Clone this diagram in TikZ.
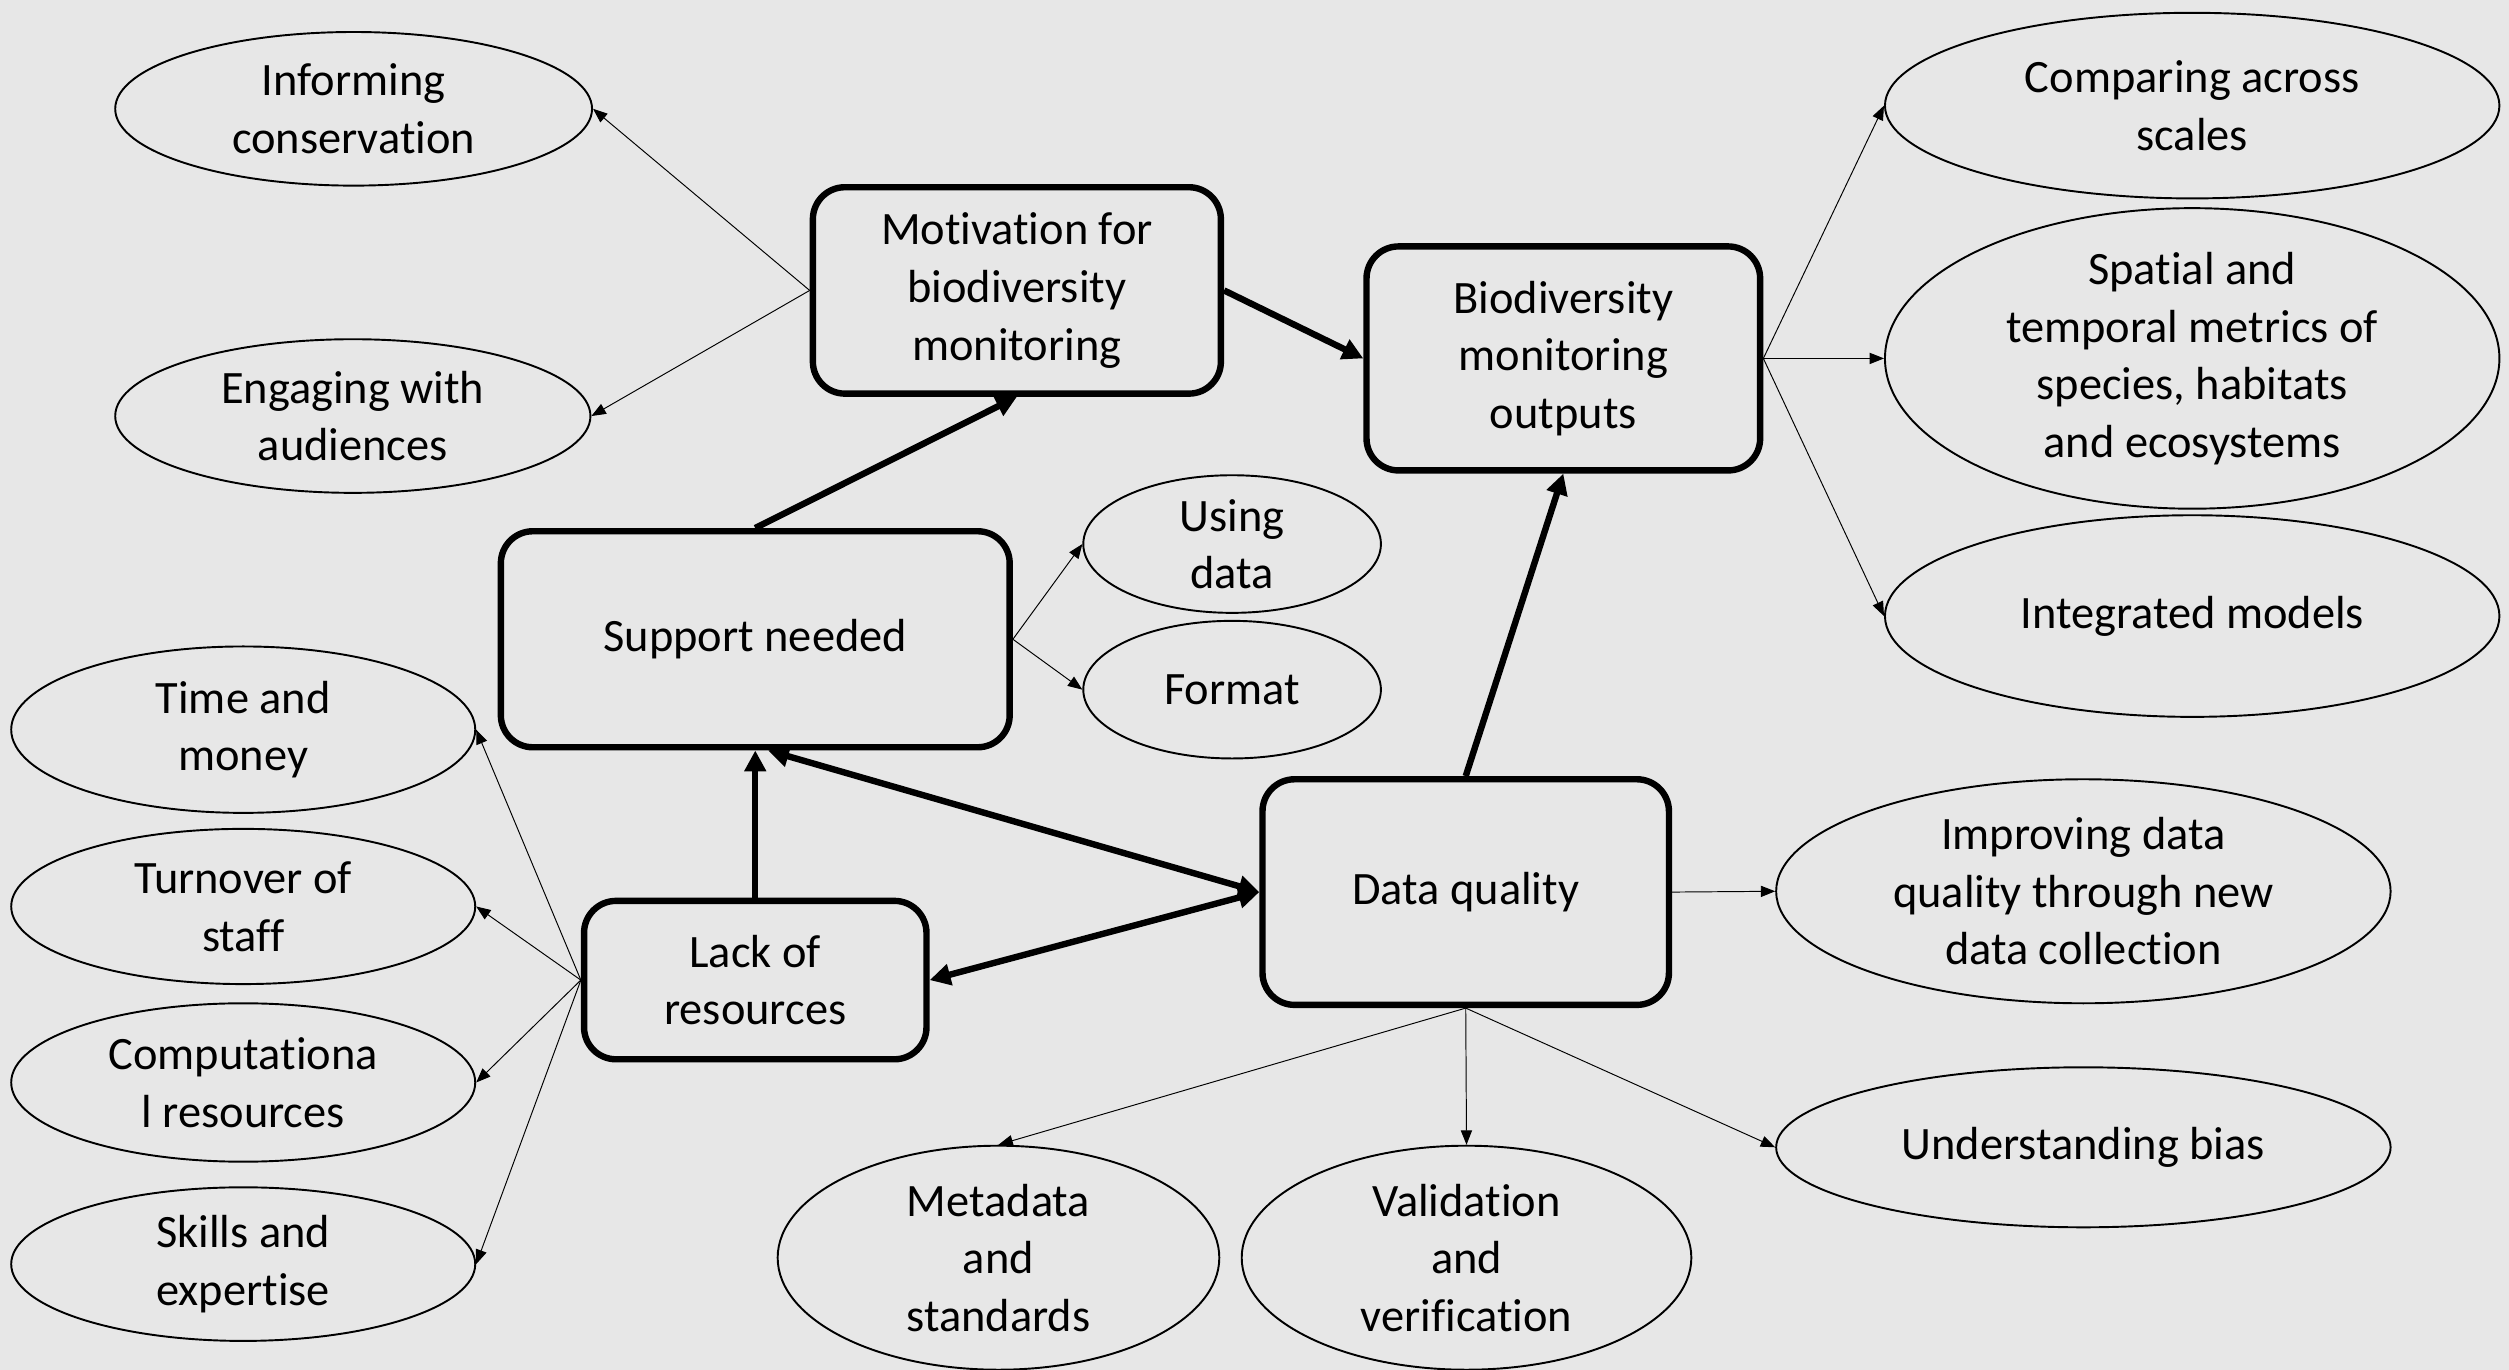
\documentclass[tikz,border=0pt]{standalone}
\usepackage{fontspec}
\setmainfont{Carlito}[Ligatures=NoCommon]
\usetikzlibrary{arrows.meta, shapes.geometric}
\definecolor{bggray}{HTML}{E7E7E7}

\begin{document}
\begin{tikzpicture}[x=1pt, y=-1pt, every node/.style={font=\fontsize{29}{36}\selectfont, align=center},
    topic/.style={draw, ellipse, line width=1.2pt, inner sep=0pt},
    theme/.style={draw, rectangle, rounded corners=20pt, line width=4pt, inner sep=0pt},
    link/.style={-{Triangle[length=9pt, width=7pt]}, line width=0.6pt},
    flow/.style={-{Triangle[length=13pt, width=13pt]}, line width=4pt},
    twoway/.style={{Triangle[length=13pt, width=13pt]}-{Triangle[length=13pt, width=13pt]}, line width=4pt}]
                \fill[bggray] (0,0) rectangle (1568,856);
                \useasboundingbox (0,0) rectangle (1568,856);
                % central themes
                \node[theme, minimum width=255pt, minimum height=129pt] (mot) at (635.5,181.5) {Motivation for\\biodiversity\\monitoring};
                \node[theme, minimum width=246pt, minimum height=140pt] (bio) at (977,224) {Biodiversity\\monitoring\\outputs};
                \node[theme, minimum width=318pt, minimum height=135pt] (sup) at (472,399.5) {Support needed};
                \node[theme, minimum width=214pt, minimum height=99pt] (lack) at (472,612.5) {Lack of\\resources};
                \node[theme, minimum width=254pt, minimum height=141pt] (dq) at (916,557.5) {Data quality};
                % sub-themes
                \node[topic, minimum width=298pt, minimum height=96pt] (inf) at (221,68) {Informing\\conservation};
                \node[topic, minimum width=297pt, minimum height=96pt] (eng) at (220.5,260) {Engaging with\\audiences};
                \node[topic, minimum width=384pt, minimum height=116pt] (cmp) at (1370,66) {Comparing across\\scales};
                \node[topic, minimum width=384pt, minimum height=170pt] (spt) at (1370,224) {Spatial and\\temporal metrics of\\species, habitats\\and ecosystems};
                \node[topic, minimum width=384pt, minimum height=126pt] (intg) at (1370,385) {Integrated models};
                \node[topic, minimum width=186pt, minimum height=86pt] (use) at (770,340) {Using\\data};
                \node[topic, minimum width=186pt, minimum height=86pt] (fmt) at (770,431) {Format};
                \node[topic, minimum width=290pt, minimum height=104pt] (time) at (152,456) {Time and\\money};
                \node[topic, minimum width=290pt, minimum height=97pt] (turn) at (152,566.5) {Turnover of\\staff};
                \node[topic, minimum width=290pt, minimum height=99pt] (comp) at (152,676.5) {Computationa\\l resources};
                \node[topic, minimum width=290pt, minimum height=96pt] (skill) at (152,790) {Skills and\\expertise};
                \node[topic, minimum width=384pt, minimum height=140pt] (impr) at (1302,557) {Improving data\\quality through new\\data collection};
                \node[topic, minimum width=384pt, minimum height=100pt] (bias) at (1302,717) {Understanding bias};
                \node[topic, minimum width=276pt, minimum height=140pt] (meta) at (624,786) {Metadata\\and\\standards};
                \node[topic, minimum width=281pt, minimum height=140pt] (vali) at (916.5,786) {Validation\\and\\verification};
                % links
                \draw[link] (mot.west) -- (inf.east);
                \draw[link] (mot.west) -- (eng.east);
                \draw[flow] (mot.east) -- (bio.west);
                \draw[flow] (sup.north) -- (mot.south);
                \draw[link] (sup.east) -- (use.west);
                \draw[link] (sup.east) -- (fmt.west);
                \draw[flow] (lack.north) -- (sup.south);
                \draw[twoway] ([xshift=8pt]sup.south) -- (dq.west);
                \draw[twoway] (lack.east) -- (dq.west);
                \draw[flow] (dq.north) -- (bio.south);
                \foreach \t in {cmp, spt, intg} \draw[link] (bio.east) -- (\t.west);
                \foreach \t in {time, turn, comp, skill} \draw[link] (lack.west) -- (\t.east);
                \draw[link] (dq.east) -- (impr.west);
                \draw[link] (dq.south) -- (meta.north);
                \draw[link] (dq.south) -- (vali.north);
                \draw[link] (dq.south) -- (bias.west);
            \end{tikzpicture}
\end{document}
